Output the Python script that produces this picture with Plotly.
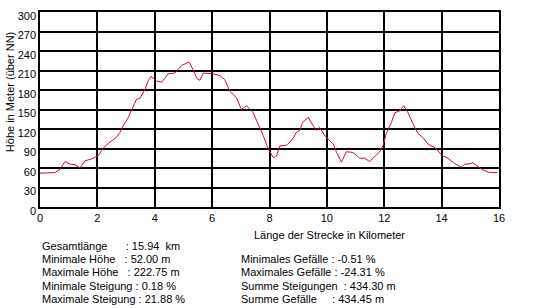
import plotly.graph_objects as go

# ---- data ----
km = [0.00, 0.30, 0.52, 0.70, 0.87, 1.04, 1.22, 1.39, 1.57, 1.80,
      2.03, 2.21, 2.44, 2.66, 2.79, 2.90, 3.08, 3.19, 3.37, 3.48,
      3.66, 3.77, 3.87, 4.06, 4.24, 4.35, 4.47, 4.70, 4.94, 5.20,
      5.34, 5.46, 5.57, 5.69, 5.86, 6.04, 6.27, 6.44, 6.62, 6.85,
      7.02, 7.20, 7.43, 7.60, 7.78, 7.95, 8.13, 8.24, 8.36, 8.59,
      8.77, 8.94, 9.06, 9.15, 9.35, 9.52, 9.64, 9.75, 9.93, 10.10,
      10.22, 10.33, 10.51, 10.68, 10.91, 11.15, 11.32, 11.49, 11.67, 11.84,
      11.96, 12.07, 12.25, 12.37, 12.54, 12.68, 12.83, 13.00, 13.18, 13.35,
      13.52, 13.70, 13.81, 13.99, 14.22, 14.45, 14.69, 14.80, 14.92, 15.09,
      15.27, 15.44, 15.67, 15.94]
hoehe = [52, 52, 53, 58, 70, 66, 65, 60, 71, 74,
         79, 91, 100, 107, 115, 125, 138, 149, 166, 167,
         181, 194, 201, 194, 192, 198, 205, 206, 218, 223,
         211, 198, 195, 206, 205, 205, 202, 196, 178, 168,
         150, 156, 145, 128, 110, 90, 76, 78, 94, 95,
         102, 115, 118, 130, 138, 125, 118, 122, 110, 102,
         97, 85, 69, 85, 84, 75, 75, 70, 77, 85,
         95, 113, 130, 145, 148, 156, 145, 128, 113, 107,
         97, 92, 90, 80, 75, 67, 61, 66, 66, 68,
         62, 57, 53, 53]

x_ticks = [0, 2, 4, 6, 8, 10, 12, 14, 16]
y_ticks = [0, 30, 60, 90, 120, 150, 180, 210, 240, 270, 300]

stats_left = ["Gesamtlänge      : 15.94  km",
              "Minimale Höhe   : 52.00 m",
              "Maximale Höhe   : 222.75 m",
              "Minimale Steigung : 0.18 %",
              "Maximale Steigung : 21.88 %"]
stats_right = ["Minimales Gefälle : -0.51 %",
               "Maximales Gefälle : -24.31 %",
               "Summe Steigungen  : 434.30 m",
               "Summe Gefälle     : 434.45 m"]

x_title = "Länge der Strecke in Kilometer"
y_title = "Höhe in Meter (über NN)"

# ---- layout geometry ----
W, H = 549, 308
L, R, T, B = 40, 50, 10, 101
pw, ph = W - L - R, H - T - B


def px(xp):
    return (xp - L) / pw


def py(yp):
    return (H - B - yp) / ph


FONT = "Liberation Sans, Arial, sans-serif"
TXT = dict(family=FONT, size=11, color="black")

fig = go.Figure()
fig.add_trace(go.Scatter(x=km, y=hoehe, mode="lines",
                         line=dict(color="#d0102c", width=1),
                         hoverinfo="skip", showlegend=False))

axis_common = dict(showgrid=True, gridcolor="black", gridwidth=1.5,
                   showline=True, linecolor="black", linewidth=1.5, mirror=True,
                   zeroline=False, ticks="", tickfont=TXT)

fig.update_xaxes(range=[0, 16], tickvals=x_ticks, ticktext=[str(v) for v in x_ticks],
                 **axis_common)
fig.update_yaxes(range=[0, 300], tickvals=y_ticks, ticktext=[str(v) for v in y_ticks],
                 ticklabelshift=4, **axis_common)

annots = []
annots.append(dict(text=x_title, x=px(329), y=py(235), xref="paper", yref="paper",
                   xanchor="center", yanchor="middle", showarrow=False, font=TXT))
annots.append(dict(text=y_title, x=px(10), y=py(91), xref="paper", yref="paper",
                   xanchor="center", yanchor="middle", showarrow=False, textangle=-90,
                   font=TXT))

row_y = [246, 259.5, 273, 286.5, 300]
for i, s in enumerate(stats_left):
    annots.append(dict(text=s.replace(" ", "\u00a0"), x=px(40), y=py(row_y[i]),
                       xref="paper", yref="paper", xanchor="left", yanchor="middle",
                       showarrow=False, font=TXT))
for i, s in enumerate(stats_right):
    annots.append(dict(text=s.replace(" ", "\u00a0"), x=px(239), y=py(row_y[i + 1]),
                       xref="paper", yref="paper", xanchor="left", yanchor="middle",
                       showarrow=False, font=TXT))

fig.update_layout(width=W, height=H, margin=dict(l=L, r=R, t=T, b=B, pad=0),
                  paper_bgcolor="white", plot_bgcolor="white",
                  annotations=annots, showlegend=False, font=TXT)

fig.write_html("out.html", config={"displayModeBar": False})
